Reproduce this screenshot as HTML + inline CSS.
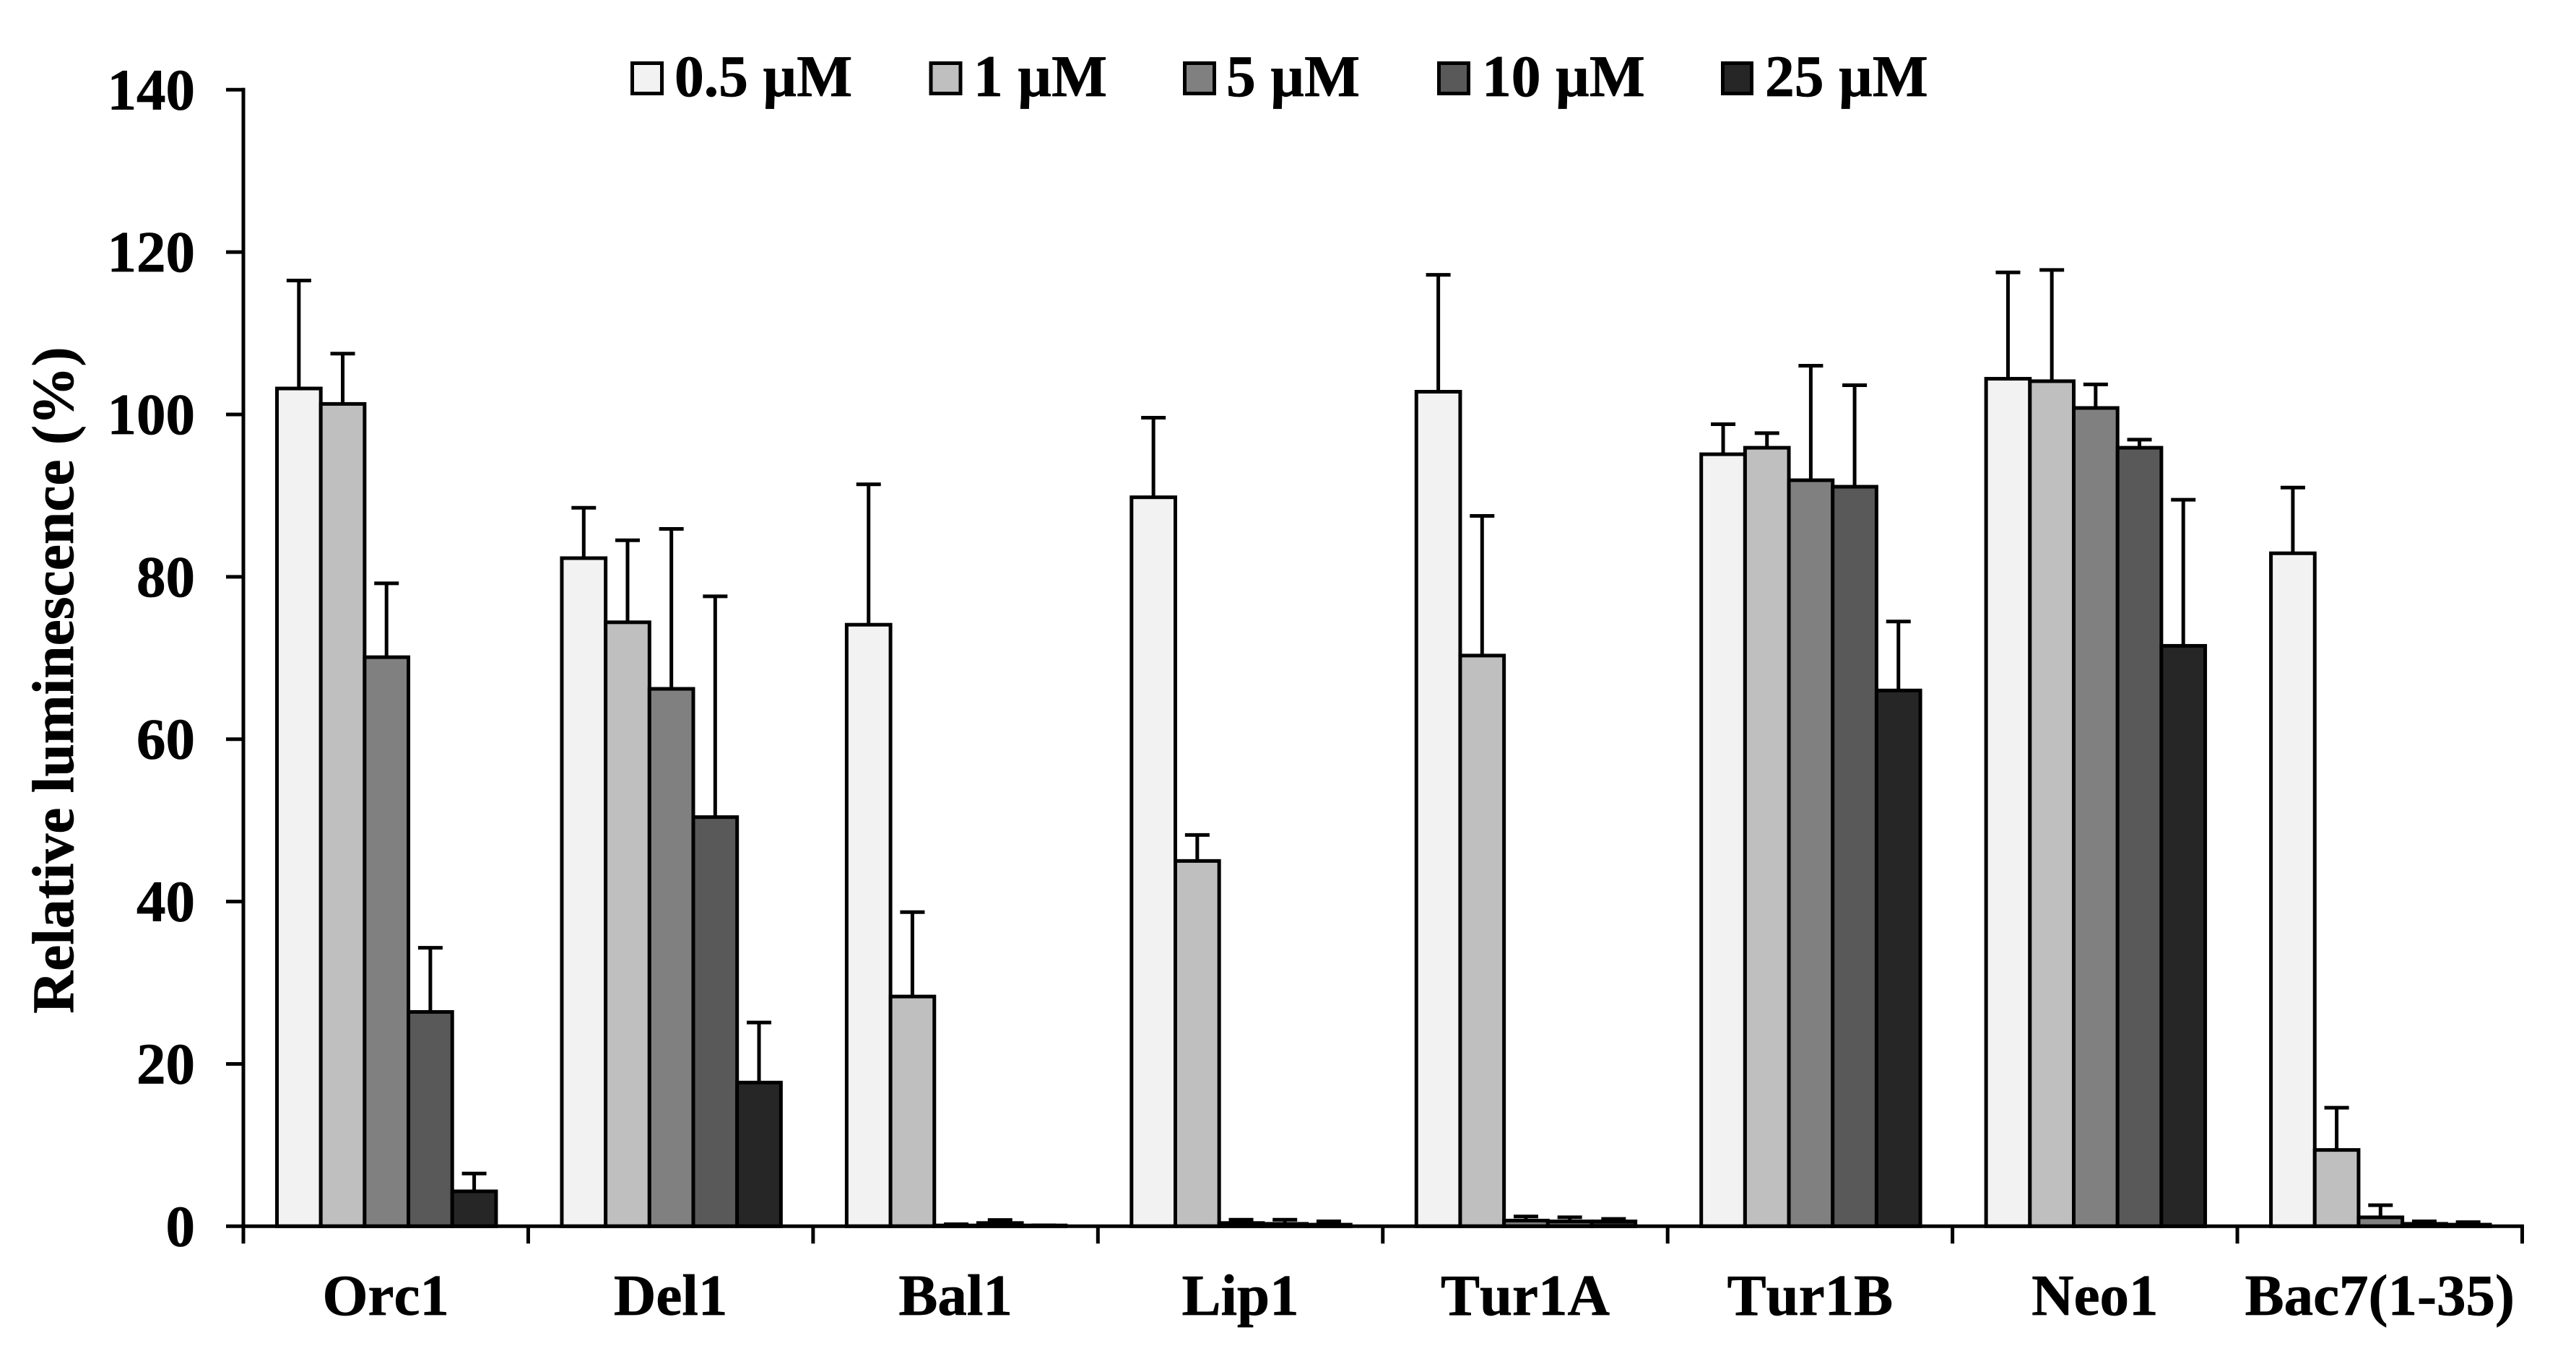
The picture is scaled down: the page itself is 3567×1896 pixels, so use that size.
<!DOCTYPE html>
<html lang="en">
<head>
<meta charset="utf-8">
<title>Relative luminescence chart</title>
<style>
html,body{margin:0;padding:0;background:#fff;}
svg{display:block;}
text{font-family:"Liberation Serif",serif;font-weight:bold;fill:#000;stroke:#000;stroke-width:0.7px;font-size:81px;font-kerning:none;}
</style>
</head>
<body>
<svg id="chart" xmlns="http://www.w3.org/2000/svg" width="3567" height="1896" viewBox="0 0 3567 1896">
  <rect x="0" y="0" width="3567" height="1896" fill="#fff"/>
  <text transform="translate(101,942) rotate(-90)" text-anchor="middle" style="font-size:81.5px">Relative luminescence (%)</text>
  <g>
    <g>
      <rect x="875.5" y="87.5" width="41" height="42" fill="#f2f2f2" stroke="#000" stroke-width="5"/>
      <text x="934" y="133" style="font-size:81.5px">0.5 µM</text>
    </g>
    <g>
      <rect x="1289" y="87.5" width="41" height="42" fill="#bfbfbf" stroke="#000" stroke-width="5"/>
      <text x="1348" y="133" style="font-size:81.5px">1 µM</text>
    </g>
    <g>
      <rect x="1640.5" y="87.5" width="41" height="42" fill="#808080" stroke="#000" stroke-width="5"/>
      <text x="1698" y="133" style="font-size:81.5px">5 µM</text>
    </g>
    <g>
      <rect x="1992.5" y="87.5" width="41" height="42" fill="#595959" stroke="#000" stroke-width="5"/>
      <text x="2052" y="133" style="font-size:81.5px">10 µM</text>
    </g>
    <g>
      <rect x="2385.5" y="87.5" width="40" height="42" fill="#262626" stroke="#000" stroke-width="5"/>
      <text x="2444" y="133" style="font-size:81.5px">25 µM</text>
    </g>
  </g>
</svg>
<script>
const categories = ['Orc1', 'Del1', 'Bal1', 'Lip1', 'Tur1A', 'Tur1B', 'Neo1', 'Bac7(1-35)'];
const seriesNames = ['0.5uM', '1uM', '5uM', '10uM', '25uM'];
const yTickLabels = [0, 20, 40, 60, 80, 100, 120, 140];
const values05 = [103.2, 82.3, 74.1, 89.8, 102.8, 95.1, 104.4, 82.9];
const values1 = [101.3, 74.4, 28.3, 45, 70.3, 95.9, 104.1, 9.4];
const values5 = [70.1, 66.2, 0.1, 0.4, 0.7, 91.9, 100.8, 1.1];
const values10 = [26.4, 50.4, 0.4, 0.3, 0.6, 91.1, 95.9, 0.3];
const values25 = [4.3, 17.7, 0.1, 0.2, 0.6, 66, 71.5, 0.2];
const errors05 = [13.3, 6.2, 17.3, 9.8, 14.4, 3.7, 13.1, 8.1];
const errors1 = [6.2, 10.1, 10.4, 3.2, 17.2, 1.8, 13.7, 5.2];
const errors5 = [9.1, 19.7, 0.15, 0.4, 0.5, 14.1, 2.9, 1.5];
const errors10 = [7.9, 27.2, 0.37, 0.5, 0.5, 12.5, 1, 0.3];
const errors25 = [2.2, 7.4, 0.02, 0.4, 0.3, 8.5, 18, 0.3];

const allValues = [values05, values1, values5, values10, values25];
const allErrors = [errors05, errors1, errors5, errors10, errors25];
const fills = ['#f2f2f2', '#bfbfbf', '#808080', '#595959', '#262626'];

const NS = 'http://www.w3.org/2000/svg';
const svg = document.getElementById('chart');
const plotLeft = 337;
const plotRight = 3492.5;
const plotBottom = 1698.3;
const plotTop = 124.3;
const yMax = 140;
const groupWidth = (plotRight - plotLeft) / categories.length;
const barWidth = groupWidth / 6.5;
const groupPad = barWidth * 0.75;
const capHalf = 17;
const strokeW = 5;

function yScale(v) {
  return plotBottom - (v / yMax) * (plotBottom - plotTop);
}
function xGroup(i) {
  return plotLeft + i * groupWidth;
}
function xBar(i, s) {
  return xGroup(i) + groupPad + 1 + s * barWidth;
}
function makeLine(x1, y1, x2, y2) {
  const l = document.createElementNS(NS, 'line');
  l.setAttribute('x1', x1);
  l.setAttribute('y1', y1);
  l.setAttribute('x2', x2);
  l.setAttribute('y2', y2);
  l.setAttribute('stroke', '#000');
  l.setAttribute('stroke-width', strokeW);
  return l;
}

const barsLayer = document.createElementNS(NS, 'g');


svg.appendChild(barsLayer);

categories.forEach(function (cat, i) {
  seriesNames.forEach(function (ser, s) {
    const v = allValues[s][i];
    const bar = document.createElementNS(NS, 'rect');
    
    
    bar.setAttribute('x', xBar(i, s));
    bar.setAttribute('y', yScale(v));
    bar.setAttribute('width', barWidth);
    bar.setAttribute('height', plotBottom - yScale(v));
    bar.setAttribute('fill', fills[s]);
    bar.setAttribute('stroke', '#000');
    bar.setAttribute('stroke-width', strokeW);
    barsLayer.appendChild(bar);
  });
});

categories.forEach(function (cat, i) {
  seriesNames.forEach(function (ser, s) {
    const v = allValues[s][i];
    const e = allErrors[s][i];
    const cx = xBar(i, s) + barWidth / 2;
    const g = document.createElementNS(NS, 'g');
    
    
    g.appendChild(makeLine(cx, yScale(v), cx, yScale(v + e)));
    g.appendChild(makeLine(cx - capHalf, yScale(v + e), cx + capHalf, yScale(v + e)));
    barsLayer.appendChild(g);
  });
});

const yAxis = document.createElementNS(NS, 'g');


svg.appendChild(yAxis);
yAxis.appendChild(makeLine(plotLeft, plotBottom, plotLeft, plotTop - 2.5));
yTickLabels.forEach(function (t) {
  const y = yScale(t);
  const tick = makeLine(plotLeft - 24, y, plotLeft + 2.5, y);
  
  
  yAxis.appendChild(tick);
  const label = document.createElementNS(NS, 'text');
  
  
  label.setAttribute('x', 270);
  label.setAttribute('y', y + 27);
  label.setAttribute('text-anchor', 'end');
  label.textContent = String(t);
  yAxis.appendChild(label);
});

const xAxis = document.createElementNS(NS, 'g');


svg.appendChild(xAxis);
xAxis.appendChild(makeLine(plotLeft, plotBottom, plotRight + 2.5, plotBottom));
for (let i = 0; i <= categories.length; i++) {
  const tick = makeLine(xGroup(i), plotBottom, xGroup(i), plotBottom + 24);
  
  
  xAxis.appendChild(tick);
}
categories.forEach(function (cat, i) {
  const label = document.createElementNS(NS, 'text');
  
  
  label.setAttribute('x', xGroup(i) + groupWidth / 2);
  label.setAttribute('y', 1821);
  label.setAttribute('text-anchor', 'middle');
  label.textContent = cat;
  xAxis.appendChild(label);
});
</script>
</body>
</html>
